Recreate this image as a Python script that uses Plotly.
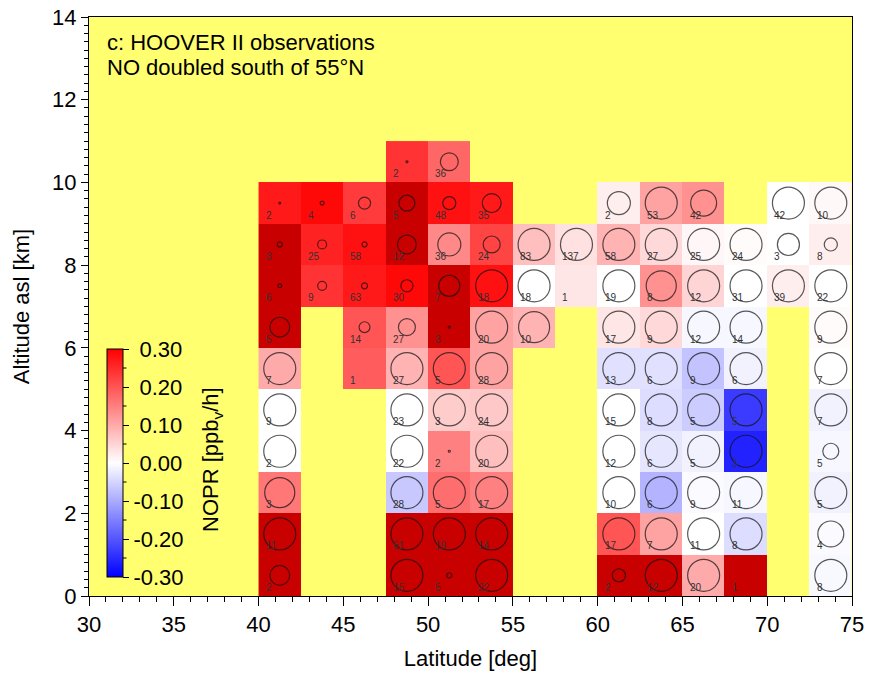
import plotly.graph_objects as go

# Latitude bins (left edges, deg) and altitude bins (bottom edges, km)
lat_bins = [40.0, 42.5, 45.0, 47.5, 50.0, 52.5, 55.0, 57.5, 60.0, 62.5, 65.0, 67.5, 70.0, 72.5]
alt_bins = [0, 1, 2, 3, 4, 5, 6, 7, 8, 9, 10]
lat_width = 2.5
alt_width = 1.0

N = None
# Mean NOPR per bin [ppbv/h]; rows = altitude bins (bottom to top), columns = latitude bins.
# Values above 0.30 are beyond the colour scale range.
nopr = [
    [0.35, N, N, 0.35, 0.35, 0.35, N, N, 0.35, 0.35, 0.10, 0.35, N, -0.008],
    [0.35, N, N, 0.35, 0.35, 0.35, N, N, 0.20, 0.11, 0.0, -0.04, N, -0.005],
    [0.16, N, N, -0.065, 0.17, 0.15, N, N, 0.0, -0.09, -0.005, -0.01, N, -0.015],
    [0.0, N, N, 0.0, 0.15, 0.075, N, N, 0.0, -0.03, -0.015, -0.26, N, -0.01],
    [0.0, N, N, 0.0, 0.06, 0.065, N, N, 0.0, -0.04, -0.06, -0.23, N, -0.015],
    [0.10, N, 0.19, 0.09, 0.20, 0.11, N, N, -0.035, -0.035, -0.07, -0.015, N, 0.0],
    [0.35, N, 0.20, 0.13, 0.35, 0.11, 0.09, N, 0.03, 0.045, -0.01, -0.01, N, 0.005],
    [0.35, 0.24, 0.27, 0.29, 0.35, 0.28, 0.0, 0.03, 0.0, 0.13, 0.05, 0.0, 0.02, 0.0],
    [0.35, 0.26, 0.28, 0.35, 0.14, 0.22, 0.075, 0.035, 0.09, 0.045, 0.01, 0.005, 0.0, 0.02],
    [0.27, 0.29, 0.23, 0.35, 0.28, 0.27, N, N, 0.02, 0.11, 0.13, N, 0.0, 0.008],
    [N, N, N, 0.24, 0.18, N, N, N, N, N, N, N, N, N],
]

# Number of observations per bin
counts = [
    [2, N, N, 15, 5, 22, N, N, 2, 12, 20, 1, N, 8],
    [11, N, N, 51, 19, 14, N, N, 17, 7, 11, 8, N, 4],
    [3, N, N, 28, 5, 17, N, N, 10, 6, 9, 11, N, 5],
    [2, N, N, 22, 2, 20, N, N, 12, 6, 5, 3, N, 5],
    [9, N, N, 23, 3, 24, N, N, 15, 8, 5, 5, N, 7],
    [7, N, 1, 27, 5, 28, N, N, 13, 6, 9, 6, N, 7],
    [5, N, 14, 27, 3, 20, 10, N, 17, 9, 12, 14, N, 9],
    [6, 9, 63, 30, 7, 18, 18, 1, 19, 8, 12, 31, 39, 22],
    [3, 25, 58, 12, 36, 24, 83, 137, 58, 27, 25, 24, 3, 8],
    [2, 4, 6, 5, 48, 35, N, N, 2, 53, 42, N, 42, 10],
    [N, N, N, 2, 36, N, N, N, N, N, N, N, N, N],
]

# Relative spread of NOPR within each bin (circle diameter, 1 = full scale)
spread = [
    [0.62, N, N, 1.0, 0.16, 1.0, N, N, 0.41, 1.0, 1.0, N, N, 1.0],
    [1.0, N, N, 1.0, 1.0, 1.0, N, N, 1.0, 1.0, 1.0, 1.0, N, 0.81],
    [0.94, N, N, 1.0, 1.0, 1.0, N, N, 1.0, 1.0, 1.0, 1.0, N, 1.0],
    [1.0, N, N, 1.0, 0.06, 1.0, N, N, 1.0, 1.0, 1.0, 1.0, N, 0.5],
    [1.0, N, N, 1.0, 1.0, 1.0, N, N, 1.0, 1.0, 1.0, 1.0, N, 1.0],
    [1.0, N, N, 1.0, 1.0, 1.0, N, N, 1.0, 1.0, 1.0, 1.0, N, 1.0],
    [0.62, N, 0.34, 0.53, 0.06, 1.0, 0.97, N, 1.0, 1.0, 1.0, 1.0, N, 1.0],
    [0.12, 0.28, 0.19, 0.38, 0.66, 1.0, 1.0, N, 1.0, 0.94, 1.0, 1.0, 1.0, 1.0],
    [0.16, 0.28, 0.16, 0.59, 0.72, 0.53, 1.0, 1.0, 1.0, 1.0, 1.0, 1.0, 0.69, 0.41],
    [0.06, 0.12, 0.38, 0.5, 0.41, 0.59, N, N, 0.72, 1.0, 0.81, N, 1.0, 1.0],
    [N, N, N, 0.06, 0.56, N, N, N, N, N, N, N, N, N],
]

cbar_ticks = [-0.3, -0.2, -0.1, 0.0, 0.1, 0.2, 0.3]
cbar_minor = [-0.25, -0.15, -0.05, 0.05, 0.15, 0.25]

ZMIN, ZMAX = -0.3, 0.3
FONT = "Liberation Sans, Arial, sans-serif"
BG_YELLOW = "#FFFF70"
OVER_RED = "#C80000"
CIRCLE_PX = 32

# Plot-area geometry (px) used to place the colour bar inside the frame
PLOT_L, PLOT_T, PLOT_W, PLOT_H = 89, 17, 763, 579
CB_LEFT, CB_TOP, CB_LEN, CB_THICK = 107, 349, 228, 16


def px_to_paper_x(px):
    return (px - PLOT_L) / PLOT_W


def px_to_paper_y(py):
    return (PLOT_T + PLOT_H - py) / PLOT_H


lat_centers = [b + lat_width / 2 for b in lat_bins]
alt_centers = [b + alt_width / 2 for b in alt_bins]

z_in = [[v if (v is not None and v <= ZMAX) else None for v in row] for row in nopr]
z_over = [[1 if (v is not None and v > ZMAX) else None for v in row] for row in nopr]

fig = go.Figure()

fig.add_trace(go.Heatmap(
    x=lat_centers, y=alt_centers, z=z_in,
    zmin=ZMIN, zmax=ZMAX,
    colorscale=[[0.0, "rgb(0,0,255)"], [0.5, "rgb(255,255,255)"], [1.0, "rgb(255,0,0)"]],
    hoverongaps=False,
    colorbar=dict(
        x=px_to_paper_x(CB_LEFT), xanchor="left", xpad=0,
        y=px_to_paper_y(CB_TOP), yanchor="top", ypad=0,
        len=CB_LEN, lenmode="pixels",
        thickness=CB_THICK, thicknessmode="pixels",
        outlinewidth=1, outlinecolor="black",
        tickmode="array", tickvals=cbar_ticks,
        ticktext=[("%.2f" % t) if t < 0 else "\u00a0%.2f" % t for t in cbar_ticks],
        ticks="outside", ticklen=6, tickcolor="black", tickwidth=1,
        tickfont=dict(size=22, color="black", family=FONT),
        bgcolor="rgba(0,0,0,0)",
    ),
))

fig.add_trace(go.Heatmap(
    x=lat_centers, y=alt_centers, z=z_over,
    colorscale=[[0.0, OVER_RED], [1.0, OVER_RED]],
    showscale=False, hoverongaps=False,
))

# Spread circles
cx, cy, cs = [], [], []
for i, row in enumerate(spread):
    for j, s in enumerate(row):
        if s is not None:
            cx.append(lat_centers[j])
            cy.append(alt_centers[i])
            cs.append(max(s * CIRCLE_PX, 2))
fig.add_trace(go.Scatter(
    x=cx, y=cy, mode="markers",
    marker=dict(symbol="circle-open", size=cs, color="#111111", line=dict(width=1.2)),
    hoverinfo="skip", showlegend=False,
))

annotations = []
# Observation counts in the lower left corner of each bin
for i, row in enumerate(counts):
    for j, n in enumerate(row):
        if n is not None:
            annotations.append(dict(
                x=lat_bins[j] + 0.3, y=alt_bins[i] + 0.03,
                xref="x", yref="y", xanchor="left", yanchor="bottom",
                text=str(n), showarrow=False,
                font=dict(size=10, color="#333333", family=FONT),
            ))

annotations.append(dict(
    x=px_to_paper_x(105), y=px_to_paper_y(42), xref="paper", yref="paper",
    xanchor="left", yanchor="middle", showarrow=False,
    text="c: HOOVER II observations", font=dict(size=22, color="black", family=FONT),
))
annotations.append(dict(
    x=px_to_paper_x(105), y=px_to_paper_y(67), xref="paper", yref="paper",
    xanchor="left", yanchor="middle", showarrow=False,
    text="NO doubled south of 55°N", font=dict(size=22, color="black", family=FONT),
))
annotations.append(dict(
    x=px_to_paper_x(212), y=px_to_paper_y(460), xref="paper", yref="paper",
    xanchor="center", yanchor="middle", showarrow=False, textangle=-90,
    text="NOPR [ppb<sub>v</sub>/h]", font=dict(size=22, color="black", family=FONT),
))

# Minor ticks on the colour bar
shapes = []
cb_right = CB_LEFT + CB_THICK
for v in cbar_minor:
    py = CB_TOP + CB_LEN * (ZMAX - v) / (ZMAX - ZMIN)
    shapes.append(dict(
        type="line", xref="paper", yref="paper",
        x0=px_to_paper_x(cb_right), x1=px_to_paper_x(cb_right + 3.5),
        y0=px_to_paper_y(py), y1=px_to_paper_y(py),
        line=dict(color="black", width=1),
    ))

axis_common = dict(
    showline=True, linecolor="black", linewidth=1, mirror=True,
    showgrid=False, zeroline=False,
    ticks="outside", tickcolor="black", tickwidth=1,
    tickfont=dict(size=22, color="black", family=FONT),
    automargin=False,
)

fig.update_layout(
    width=869, height=674,
    margin=dict(l=PLOT_L, r=869 - PLOT_L - PLOT_W, t=PLOT_T, b=674 - PLOT_T - PLOT_H),
    paper_bgcolor="white",
    plot_bgcolor=BG_YELLOW,
    font=dict(family=FONT, color="black"),
    showlegend=False,
    annotations=annotations,
    shapes=shapes,
    xaxis=dict(
        range=[30, 75], tick0=30, dtick=5, ticklen=9,
        minor=dict(dtick=1, ticks="outside", ticklen=5, tickcolor="black"),
        title=dict(text="Latitude [deg]", font=dict(size=22, family=FONT), standoff=14),
        **axis_common,
    ),
    yaxis=dict(
        range=[0, 14], tick0=0, dtick=2, ticklen=7,
        minor=dict(dtick=0.2, ticks="outside", ticklen=4, tickcolor="black"),
        title=dict(text="Altitude asl [km]", font=dict(size=22, family=FONT), standoff=16),
        **axis_common,
    ),
)

fig.write_html("out.html")
